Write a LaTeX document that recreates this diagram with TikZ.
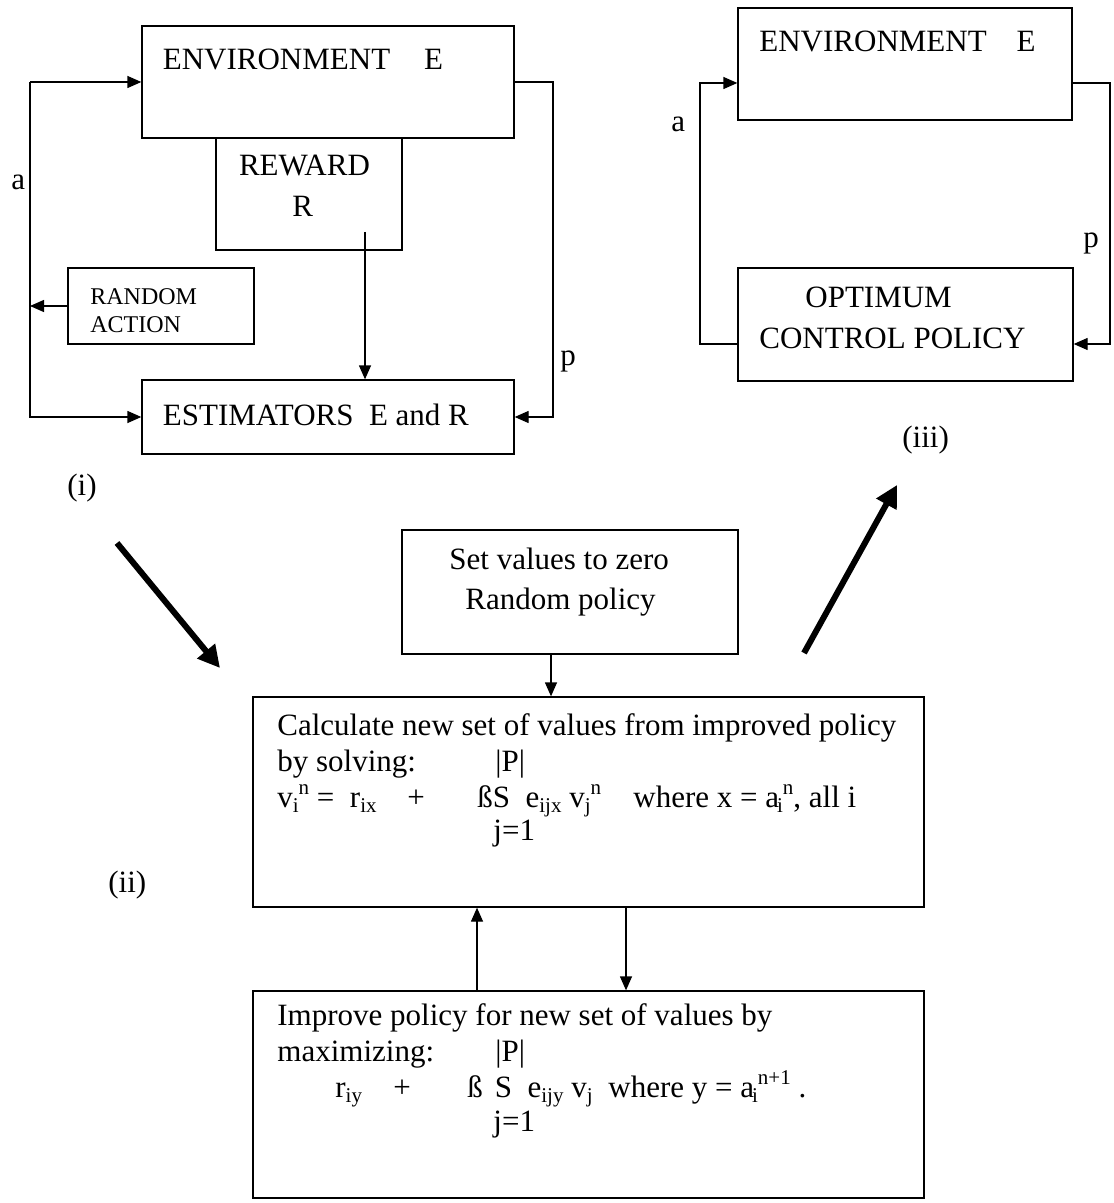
\documentclass[tikz,border=0pt]{standalone}
\usepackage{fontspec}
\setmainfont{Liberation Serif}
\usetikzlibrary{arrows.meta}
\newcommand\mainfs{\fontsize{15.5}{18}\selectfont}
\newcommand\smallfs{\fontsize{12}{14}\selectfont}
\newcommand\scrfs{\fontsize{10.5}{12}\selectfont}
\newcommand\dn[1]{\raisebox{-2.5pt}{\scrfs #1}}
\newcommand\up[1]{\raisebox{6.5pt}{\scrfs #1}}

\begin{document}
\begin{tikzpicture}[x=0.5pt,y=-0.5pt,
  box/.style={draw, line width=0.65pt, rectangle, inner sep=0pt},
  txt/.style={anchor=base west, inner sep=0pt, font=\mainfs},
  smalltxt/.style={anchor=base west, inner sep=0pt, font=\smallfs},
  arr/.style={line width=0.65pt, -{Triangle[length=7pt,width=6pt]}},
  bigarr/.style={line width=3pt, -{Triangle[length=11pt,width=11pt]}}]
\useasboundingbox (0,0) rectangle (1113,1203);

% ---------- (i) learning loop ----------
\node[box, minimum width=186pt, minimum height=56pt] (envA) at (328,82) {};
\node[box, minimum width=93pt, minimum height=56pt] (rewA) at (309,194) {};
\node[box, minimum width=93pt, minimum height=38pt] (randA) at (161,306) {};
\node[box, minimum width=186pt, minimum height=37pt] (estA) at (328,417) {};

\node[txt] (envAt) at (162.5,70) {ENVIRONMENT\hspace*{17pt}E};
\node[txt] (rewAt) at (238.6,176) {REWARD};
\node[txt] (rewAr) at (292,217) {R};
\node[smalltxt] (randAt) at (90,305) {RANDOM};
\node[smalltxt] (randAa) at (90,333) {ACTION};
\node[txt] (estAt) at (162.5,425) {ESTIMATORS~ E and R};
\node[txt] (labAa) at (11,190) {a};
\node[txt] (labAp) at (560,365) {p};
\node[txt] (labI) at (67,495) {(i)};

\coordinate (aL) at (30,0);
\coordinate (pR) at (553,0);
\coordinate (rStart) at (365,232);
\draw[arr] (envA.west -| aL) -- (envA.west);
\draw[arr] (envA.west -| aL) |- (estA.west);
\draw[arr] (randA.west) -- (randA.west -| aL);
\draw[arr] (envA.east) -- (envA.east -| pR) |- (estA.east);
\draw[arr] (rStart) -- (rStart |- estA.north);

% ---------- (iii) optimum control loop ----------
\node[box, minimum width=167pt, minimum height=56pt] (envC) at (905,64) {};
\node[box, minimum width=167.5pt, minimum height=56.5pt] (optC) at (905.5,324.5) {};

\node[txt] (envCt) at (759,52) {ENVIRONMENT\hspace*{15pt}E};
\node[txt] (optCt) at (805,307) {OPTIMUM};
\node[txt] (optCc) at (759,349) {CONTROL POLICY};
\node[txt] (labCa) at (671,132) {a};
\node[txt] (labCp) at (1083,248) {p};
\node[txt] (labIII) at (902,447) {(iii)};

\coordinate (cA) at (700,344);
\coordinate (cB) at (700,83);
\coordinate (cC) at (1110,83);
\coordinate (cD) at (1110,344);
\draw[arr] (cA -| optC.west) -- (cA) -- (cB) -- (cB -| envC.west);
\draw[arr] (cC -| envC.east) -- (cC) -- (cD) -- (cD -| optC.east);

% ---------- (ii) policy iteration ----------
\node[box, minimum width=168pt, minimum height=62pt] (setB) at (570,592) {};
\node[box, minimum width=335.5pt, minimum height=105pt] (calcB) at (588.5,802) {};
\node[box, minimum width=335.5pt, minimum height=103.5pt] (impB) at (588.5,1094.5) {};

\node[txt] (setBt) at (449,569) {Set values to zero};
\node[txt] (setBr) at (465,609) {Random policy};

\node[txt] (calc1) at (277,735) {Calculate new set of values from improved policy};
\node[txt] (calc2) at (277,771) {\makebox[109pt][l]{by solving:}|P|};
\node[txt] (calc3) at (277,807) {\makebox[65pt][l]{v\dn{i}\up{n} = ~r\dn{ix}}\makebox[35pt][l]{+}\makebox[78pt][l]{ßS ~e\dn{ijx} v\dn{j}\up{n}}where x = a\kern-1pt\dn{i}\up{n}, all i};
\node[txt] (calc4) at (493,840) {j=1};

\node[txt] (imp1) at (277,1025) {Improve policy for new set of values by};
\node[txt] (imp2) at (277,1061) {\makebox[109pt][l]{maximizing:}|P|};
\node[txt] (imp3) at (335,1097) {\makebox[29pt][l]{r\dn{iy}}\makebox[37pt][l]{+}\makebox[70.5pt][l]{ß\hspace*{6pt}S ~e\dn{ijy} v\dn{j}}where y = a\kern-1pt\dn{i}\up{n+1} .};
\node[txt] (imp4) at (493,1131) {j=1};

\node[txt] (labII) at (108,892) {(ii)};

\coordinate (sArr) at (551,0);
\coordinate (upArr) at (477,0);
\coordinate (dnArr) at (626,0);
\draw[arr] (sArr |- setB.south) -- (sArr |- calcB.north);
\draw[arr] (upArr |- impB.north) -- (upArr |- calcB.south);
\draw[arr] (dnArr |- calcB.south) -- (dnArr |- impB.north);

% ---------- transitions between the stages ----------
\coordinate (t1s) at (117,543);
\coordinate (t1e) at (220,668);
\coordinate (t2s) at (804,653);
\coordinate (t2e) at (897,485);
\draw[bigarr] (t1s) -- (t1e);
\draw[bigarr] (t2s) -- (t2e);
\end{tikzpicture}
\end{document}
